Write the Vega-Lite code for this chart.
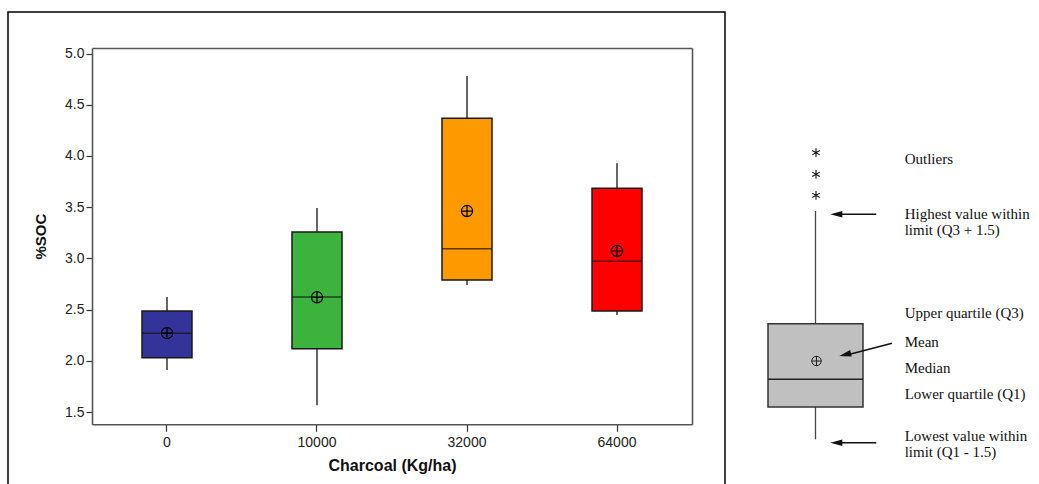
{
  "$schema": "https://vega.github.io/schema/vega-lite/v6.json",
  "background": "white",
  "padding": {"left": 7, "top": 11, "right": 0, "bottom": 0},
  "spacing": 16,
  "config": {"view": {"stroke": null}, "font": "Liberation Sans"},
  "hconcat": [
    {
      "width": 717,
      "height": 480,
      "view": {"stroke": "black", "strokeWidth": 1.5},
      "data": {"values": [
        {"charcoal": "0", "lower": 1.91, "q1": 2.03, "median": 2.268, "mean": 2.27, "q3": 2.486, "upper": 2.623},
        {"charcoal": "10000", "lower": 1.565, "q1": 2.118, "median": 2.623, "mean": 2.62, "q3": 3.257, "upper": 3.492},
        {"charcoal": "32000", "lower": 2.74, "q1": 2.789, "median": 3.094, "mean": 3.462, "q3": 4.367, "upper": 4.78},
        {"charcoal": "64000", "lower": 2.447, "q1": 2.486, "median": 2.971, "mean": 3.072, "q3": 3.684, "upper": 3.928}
      ]},
      "resolve": {"axis": {"x": "independent", "y": "independent"}},
      "layer": [
        {
          "mark": {"type": "rule", "color": "black", "strokeWidth": 1.2},
          "encoding": {
            "x": {"field": "charcoal", "type": "ordinal", "sort": ["0", "10000", "32000", "64000"],
                  "scale": {"range": [84, 684], "paddingInner": 0.6667, "paddingOuter": 0.3333},
                  "axis": {"orient": "bottom", "offset": -67.7, "title": "Charcoal (Kg/ha)",
                           "titleFont": "Liberation Sans", "titleFontSize": 16, "titleFontWeight": "bold", "titleColor": "#111", "titlePadding": 8,
                           "labelFont": "Liberation Sans", "labelFontSize": 14, "labelColor": "#222", "labelAngle": 0, "labelPadding": 4,
                           "tickSize": 7, "tickColor": "#333", "tickWidth": 1.2, "domainColor": "#555", "domainWidth": 1.6, "grid": false}},
            "y": {"field": "lower", "type": "quantitative",
                  "scale": {"domain": [1.38, 5.054], "range": [412.3, 36], "nice": false, "zero": false},
                  "axis": {"orient": "left", "offset": -84, "values": [1.5, 2, 2.5, 3, 3.5, 4, 4.5, 5], "format": ".1f",
                           "title": "%SOC", "titleFont": "Liberation Sans", "titleFontSize": 15, "titleFontWeight": "bold", "titleColor": "#111", "titlePadding": 16,
                           "labelFont": "Liberation Sans", "labelFontSize": 14, "labelColor": "#222", "labelPadding": 2,
                           "tickSize": 6, "tickColor": "#333", "tickWidth": 1.2, "domainColor": "#555", "domainWidth": 1.6, "grid": false}},
            "y2": {"field": "upper"}
          }
        },
        {
          "mark": {"type": "bar", "stroke": "#1a1a1a", "strokeWidth": 1.5},
          "encoding": {
            "x": {"field": "charcoal", "type": "ordinal", "sort": ["0", "10000", "32000", "64000"], "axis": null},
            "y": {"field": "q1", "type": "quantitative", "axis": null},
            "y2": {"field": "q3"},
            "color": {"field": "charcoal", "type": "nominal",
                      "scale": {"domain": ["0", "10000", "32000", "64000"], "range": ["#333399", "#3cb33c", "#ff9900", "#ff0000"]},
                      "legend": null}
          }
        },
        {
          "mark": {"type": "tick", "color": "#111", "thickness": 1.5, "size": 50},
          "encoding": {
            "x": {"field": "charcoal", "type": "ordinal", "sort": ["0", "10000", "32000", "64000"], "axis": null},
            "y": {"field": "median", "type": "quantitative", "axis": null}
          }
        },
        {
          "mark": {"type": "point", "shape": "M-1,0A1,1,0,1,1,1,0A1,1,0,1,1,-1,0ZM-1,0L1,0M0,-1L0,1", "size": 125, "filled": false, "stroke": "black", "strokeWidth": 1.2, "opacity": 1},
          "encoding": {
            "x": {"field": "charcoal", "type": "ordinal", "sort": ["0", "10000", "32000", "64000"],
                  "axis": {"orient": "top", "offset": -36, "title": null, "labels": false, "ticks": false, "domainColor": "#555", "domainWidth": 1.6, "grid": false}},
            "y": {"field": "mean", "type": "quantitative",
                  "axis": {"orient": "right", "offset": -33, "title": null, "labels": false, "ticks": false, "domainColor": "#555", "domainWidth": 1.6, "grid": false}}
          }
        }
      ]
    },
    {
      "width": 299,
      "height": 480,
      "view": {"stroke": null},
      "layer": [
        {
          "data": {"values": [{"lower": 5.27, "q1": 8.5, "median": 11.27, "mean": 13.1, "q3": 16.83, "upper": 28.1}]},
          "layer": [
            {
              "mark": {"type": "rule", "color": "#444", "strokeWidth": 1.3},
              "encoding": {
                "x": {"datum": 7.35, "type": "quantitative", "scale": {"domain": [0, 29.9], "nice": false, "zero": false}, "axis": null},
                "y": {"field": "lower", "type": "quantitative", "scale": {"domain": [0, 48], "nice": false, "zero": false}, "axis": null},
                "y2": {"field": "upper"}
              }
            },
            {
              "mark": {"type": "rect", "fill": "#c0c0c0", "stroke": "#333", "strokeWidth": 1.5},
              "encoding": {
                "x": {"datum": 2.6, "type": "quantitative"},
                "x2": {"datum": 12.1},
                "y": {"field": "q1", "type": "quantitative"},
                "y2": {"field": "q3"}
              }
            },
            {
              "mark": {"type": "rule", "color": "#222", "strokeWidth": 1.5},
              "encoding": {
                "x": {"datum": 2.6, "type": "quantitative"},
                "x2": {"datum": 12.1},
                "y": {"field": "median", "type": "quantitative"}
              }
            },
            {
              "mark": {"type": "point", "shape": "M-1,0A1,1,0,1,1,1,0A1,1,0,1,1,-1,0ZM-1,0L1,0M0,-1L0,1", "size": 90, "filled": false, "stroke": "#222", "strokeWidth": 1, "opacity": 1},
              "encoding": {
                "x": {"datum": 7.45, "type": "quantitative"},
                "y": {"field": "mean", "type": "quantitative"}
              }
            }
          ]
        },
        {
          "data": {"values": [{"outlier": 29.67}, {"outlier": 31.77}, {"outlier": 33.93}]},
          "mark": {"type": "point", "shape": "M0,-1L0,1M-0.87,-0.5L0.87,0.5M-0.87,0.5L0.87,-0.5", "size": 75, "filled": false, "stroke": "#111", "strokeWidth": 1.1, "opacity": 1},
          "encoding": {
            "x": {"datum": 7.4, "type": "quantitative"},
            "y": {"field": "outlier", "type": "quantitative"}
          }
        },
        {
          "data": {"values": [{"level": 27.77}, {"level": 4.93}]},
          "layer": [
            {
              "mark": {"type": "rule", "color": "#111", "strokeWidth": 1.5},
              "encoding": {
                "x": {"datum": 13.43, "type": "quantitative"},
                "x2": {"datum": 9.5},
                "y": {"field": "level", "type": "quantitative"}
              }
            },
            {
              "mark": {"type": "point", "shape": "M-1,0L1,-0.55L1,0.55Z", "size": 144, "filled": true, "color": "#111", "opacity": 1},
              "encoding": {
                "x": {"datum": 9.43, "type": "quantitative"},
                "y": {"field": "level", "type": "quantitative"}
              }
            }
          ]
        },
        {
          "data": {"values": [{"from": 14.87, "to": 13.64}]},
          "layer": [
            {
              "mark": {"type": "rule", "color": "#111", "strokeWidth": 1.5},
              "encoding": {
                "x": {"datum": 15.0, "type": "quantitative"},
                "x2": {"datum": 10.3},
                "y": {"field": "from", "type": "quantitative"},
                "y2": {"field": "to"}
              }
            },
            {
              "mark": {"type": "point", "shape": "M-1,0L1,-0.55L1,0.55Z", "size": 144, "filled": true, "color": "#111", "opacity": 1, "angle": 346.5},
              "encoding": {
                "x": {"datum": 10.31, "type": "quantitative"},
                "y": {"datum": 13.73, "type": "quantitative"}
              }
            }
          ]
        },
        {
          "data": {"values": [
            {"text": "Outliers", "level": 33.3},
            {"text": "Highest value within", "level": 27.85},
            {"text": "limit (Q3 + 1.5)", "level": 26.25},
            {"text": "Upper quartile (Q3)", "level": 17.9},
            {"text": "Mean", "level": 15.0},
            {"text": "Median", "level": 12.4},
            {"text": "Lower quartile (Q1)", "level": 9.8},
            {"text": "Lowest value within", "level": 5.58},
            {"text": "limit (Q1 - 1.5)", "level": 3.98}
          ]},
          "mark": {"type": "text", "align": "left", "baseline": "middle", "font": "Liberation Serif", "fontSize": 15, "color": "#111"},
          "encoding": {
            "x": {"datum": 16.27, "type": "quantitative"},
            "y": {"field": "level", "type": "quantitative"},
            "text": {"field": "text"}
          }
        }
      ]
    }
  ]
}
